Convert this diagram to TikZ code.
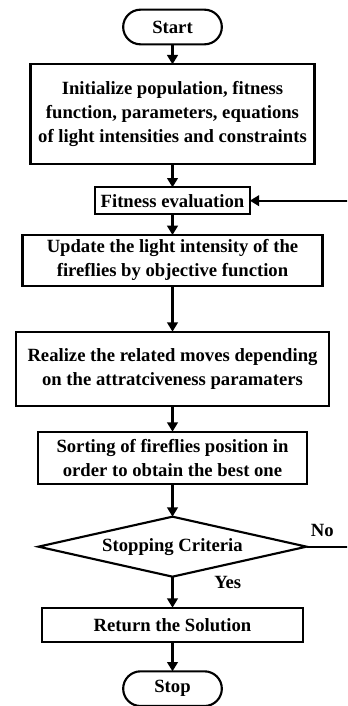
\documentclass[tikz,border=0pt]{standalone}
\usepackage{fontspec}
\setmainfont{Liberation Serif}
\usetikzlibrary{shapes.geometric, positioning, arrows.meta}
\tikzset{
    ->, % makes the edges directed
    >={Triangle[length=7pt,width=8pt]}, % filled arrow heads
    font=\bfseries\fontsize{14}{18}\selectfont, % bold serif text everywhere
    every node/.style={outer sep=0pt}, % gaps are measured from the border lines
    process/.style={draw, rectangle, align=center, inner sep=2pt}, % the boxes
    terminal/.style={draw, rectangle, rounded corners=13pt, minimum width=74pt, minimum height=26pt}, % start and stop
    decision/.style={draw, diamond, aspect=4.47, inner sep=0pt, minimum width=201pt, minimum height=45pt}, % the test
}
\begin{document}
\begin{tikzpicture}[x=0.75pt, y=-0.75pt, line width=1.6pt]
        % page size, the loop back runs just past the right edge
        \useasboundingbox (0,0) rectangle (347,706);
        \clip (0,0) rectangle (347,706);

        % States definitions here
        % \node[<options>] (name) {text label};
        \node[terminal] (START) at (172.5,27) {Start};
        \node[process, below=15pt of START, minimum width=213pt, minimum height=75pt] (INIT)
            {Initialize population, fitness\\function, parameters, equations\\of light intensities and constraints};
        \node[process, below=17.25pt of INIT, minimum width=116pt, minimum height=20pt] (FIT) {Fitness evaluation};
        \node[process, below=15.75pt of FIT, minimum width=225pt, minimum height=38pt] (UPD)
            {Update the light intensity of the\\fireflies by objective function};
        \node[process, below=34.5pt of UPD, minimum width=235pt, minimum height=55.5pt] (MOVE)
            {Realize the related moves depending\\on the attratciveness paramaters};
        \node[process, below=19.5pt of MOVE, minimum width=202pt, minimum height=39pt] (SORT)
            {Sorting of fireflies position in\\order to obtain the best one};
        \node[decision, below=24.75pt of SORT] (CRIT) {Stopping Criteria};
        \node[process, below=23.25pt of CRIT, minimum width=196pt, minimum height=26pt] (RET) {Return the Solution};
        \node[terminal, below=21.75pt of RET] (STOP) {Stop};

        \node[above right=4pt and 0pt of CRIT.east] (NO) {No};
        \node[below right=-4pt and 28pt of CRIT.south] (YES) {Yes};
        \coordinate (BACK) at (350,0);

        % draw Edges
        \draw (START) -- (INIT);
        \draw (INIT) -- (FIT);
        \draw (FIT) -- (UPD);
        \draw (UPD) -- (MOVE);
        \draw (MOVE) -- (SORT);
        \draw (SORT) -- (CRIT);
        \draw (CRIT) -- (RET);
        \draw (RET) -- (STOP);
        \draw (CRIT.east) -| (BACK |- FIT.east) -- (FIT.east);
\end{tikzpicture}
\end{document}
